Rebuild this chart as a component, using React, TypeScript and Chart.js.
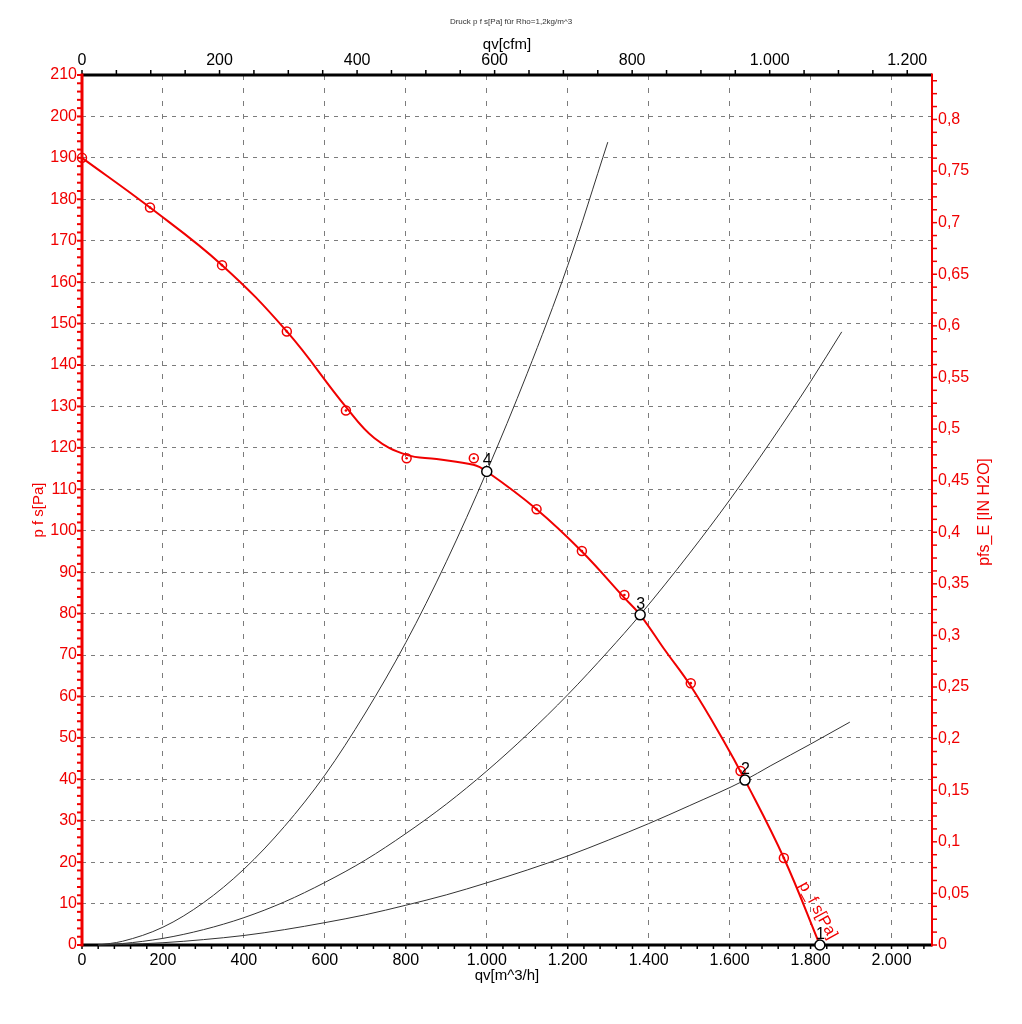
import React, { useEffect, useRef } from 'react';
import { Chart, registerables } from 'chart.js';

Chart.register(...registerables);

const FONT = "'Liberation Sans', Arial, Helvetica, sans-serif";
const RED = '#f00000';
const GRID = '#7c7c7c';

// Axis ranges / unit conversions
const X_MAX = 2100; // m^3/h
const Y_MAX = 210; // Pa
const M3H_PER_CFM = 1.699011;
const PA_PER_INH2O = 249.089;

// Tick labels
const X_TICKS = [0, 200, 400, 600, 800, 1000, 1200, 1400, 1600, 1800, 2000];
const CFM_TICKS = [0, 200, 400, 600, 800, 1000, 1200];
const PA_TICKS = [0, 10, 20, 30, 40, 50, 60, 70, 80, 90, 100, 110, 120, 130, 140, 150, 160, 170, 180, 190, 200, 210];
const INH2O_TICKS = [0, 0.05, 0.1, 0.15, 0.2, 0.25, 0.3, 0.35, 0.4, 0.45, 0.5, 0.55, 0.6, 0.65, 0.7, 0.75, 0.8];

// Fan curve p_f s [Pa] over qv [m^3/h]
const FAN_Q = [0, 168, 346, 506, 652, 722, 802, 876, 967, 1000, 1123, 1235, 1340, 1379, 1440, 1504, 1584, 1638, 1734, 1823];
const FAN_P = [190, 178, 164.1, 148.1, 129.9, 122.4, 118.3, 117.3, 115.9, 114.3, 105.2, 95, 83.8, 79.7, 71.2, 62.5, 49.5, 39.8, 21, 0];

// Measured points on the fan curve
const MEAS_Q = [0, 168, 346, 506, 652, 802, 968, 1123, 1235, 1340, 1504, 1627, 1734];
const MEAS_P = [190, 178, 164.1, 148.1, 129, 117.5, 117.5, 105.2, 95.1, 84.5, 63.2, 42, 21];

// Operating points
const OP_Q = [1823, 1638, 1379, 1000];
const OP_P = [0, 39.8, 79.7, 114.3];
const OP_LABELS = ['1', '2', '3', '4'];

// System curves
const SYS_A_Q = [40, 100, 200, 300, 400, 500, 600, 700, 800, 900, 1000, 1100, 1200, 1299];
const SYS_A_P = [0, 0.9, 4.3, 10.2, 18.3, 28.6, 41, 56, 73, 92.5, 114.3, 138, 164, 193.8];
const SYS_B_Q = [40, 100, 200, 300, 400, 500, 600, 700, 800, 900, 1000, 1100, 1200, 1300, 1379, 1500, 1600, 1700, 1800, 1877];
const SYS_B_P = [0, 0.35, 1.6, 3.7, 6.6, 10.4, 15.1, 20.5, 26.9, 34, 42, 50.8, 60.4, 70.9, 79.7, 94.4, 107.4, 121.3, 136, 148];
const SYS_C_Q = [40, 100, 200, 300, 400, 500, 600, 700, 800, 900, 1000, 1100, 1200, 1300, 1400, 1500, 1638, 1700, 1800, 1897];
const SYS_C_P = [0, 0.12, 0.55, 1.3, 2.3, 3.7, 5.4, 7.3, 9.6, 12.1, 15, 18.1, 21.5, 25.3, 29.3, 33.6, 39.8, 43.2, 48.5, 53.8];

const FAN_LABEL = 'p_f s[Pa]';
const FAN_LABEL_AT = [1771, 14.5];

const pts = (qs: number[], ps: number[]) => qs.map((q, i) => ({ x: q, y: ps[i] }));

const fmtThousands = (v: number) => {
  const n = Math.round(v);
  if (n >= 1000) return Math.floor(n / 1000) + '.' + String(n % 1000).padStart(3, '0');
  return String(n);
};
const fmtComma = (v: number) => String(parseFloat(Number(v).toFixed(4))).replace('.', ',');

const decor = {
  id: 'decor',
  beforeDatasetsDraw(chart: any) {
    const { ctx, chartArea: a, scales } = chart;
    const { x, x2, y, y2 } = scales;
    const seg = (x1: number, y1: number, xx: number, yy: number) => {
      ctx.beginPath();
      ctx.moveTo(x1, y1);
      ctx.lineTo(xx, yy);
      ctx.stroke();
    };
    ctx.save();
    ctx.setLineDash([]);
    // left minor ticks
    ctx.strokeStyle = RED;
    ctx.lineWidth = 2;
    for (let v = 0; v <= Y_MAX + 1e-9; v += 2) {
      const py = y.getPixelForValue(v);
      seg(a.left - 5, py, a.left, py);
    }
    // right minor ticks
    ctx.lineWidth = 1.5;
    for (let v = 0; v <= y2.max + 1e-9; v += 0.0125) {
      const py = y2.getPixelForValue(v);
      seg(a.right, py, a.right + 5, py);
    }
    // bottom ticks
    ctx.strokeStyle = '#000';
    ctx.lineWidth = 1.5;
    for (let v = 0; v <= X_MAX + 1e-9; v += 40) {
      const px = x.getPixelForValue(v);
      seg(px, a.bottom, px, a.bottom + 4);
    }
    // top ticks
    for (let v = 0; v <= x2.max + 1e-9; v += 50) {
      const px = x2.getPixelForValue(v);
      seg(px, a.top - 5, px, a.top);
    }
    // axis lines
    ctx.lineWidth = 3;
    ctx.strokeStyle = '#000';
    seg(a.left, a.top, a.right, a.top);
    seg(a.left, a.bottom, a.right, a.bottom);
    ctx.strokeStyle = RED;
    seg(a.left, a.top - 1.5, a.left, a.bottom + 1.5);
    ctx.lineWidth = 2;
    seg(a.right, a.top - 1.5, a.right, a.bottom + 1.5);
    ctx.restore();
  },
  afterDatasetsDraw(chart: any) {
    const { ctx, scales } = chart;
    const { x, y } = scales;
    ctx.save();
    // operating point numbers
    ctx.fillStyle = '#000';
    ctx.font = `16px ${FONT}`;
    ctx.textAlign = 'center';
    ctx.textBaseline = 'alphabetic';
    OP_Q.forEach((q, i) => {
      const px = x.getPixelForValue(q);
      const py = y.getPixelForValue(OP_P[i]);
      ctx.fillText(OP_LABELS[i], px + 0.5, py - 6);
    });
    // rotated fan-curve label
    const lx = x.getPixelForValue(FAN_LABEL_AT[0]);
    const ly = y.getPixelForValue(FAN_LABEL_AT[1]);
    ctx.translate(lx, ly);
    ctx.rotate((61 * Math.PI) / 180);
    ctx.fillStyle = RED;
    ctx.textAlign = 'left';
    ctx.fillText(FAN_LABEL, 0, 0);
    ctx.restore();
  },
  afterDraw(chart: any) {
    const { ctx, chartArea: a } = chart;
    ctx.save();
    ctx.translate(985, (a.top + a.bottom) / 2 + 2);
    ctx.rotate(-Math.PI / 2);
    ctx.fillStyle = RED;
    ctx.font = `16px ${FONT}`;
    ctx.textAlign = 'center';
    ctx.textBaseline = 'middle';
    ctx.fillText('pfs_E [IN H2O]', 0, 0);
    ctx.restore();
  },
};

export default function App() {
  const ref = useRef<HTMLCanvasElement | null>(null);

  useEffect(() => {
    if (!ref.current) return;
    const lineDs = (data: any, color: string, width: number, order: number, monotone: boolean) => ({
      data,
      borderColor: color,
      borderWidth: width,
      pointRadius: 0,
      showLine: true,
      fill: false,
      tension: 0.4,
      cubicInterpolationMode: monotone ? 'monotone' : 'default',
      clip: false,
      order,
      xAxisID: 'x',
      yAxisID: 'y',
    });
    const chart = new Chart(ref.current, {
      type: 'line',
      data: {
        datasets: [
          {
            data: pts(OP_Q, OP_P),
            showLine: false,
            pointRadius: 5,
            pointBorderWidth: 1.5,
            pointBorderColor: '#000',
            pointBackgroundColor: '#fff',
            clip: false,
            order: 0,
            xAxisID: 'x',
            yAxisID: 'y',
          } as any,
          {
            data: pts(MEAS_Q, MEAS_P),
            showLine: false,
            pointRadius: 1.3,
            pointBorderWidth: 0,
            pointBackgroundColor: RED,
            pointBorderColor: RED,
            clip: false,
            order: 1,
            xAxisID: 'x',
            yAxisID: 'y',
          } as any,
          {
            data: pts(MEAS_Q, MEAS_P),
            showLine: false,
            pointRadius: 4.5,
            pointBorderWidth: 1.5,
            pointBorderColor: RED,
            pointBackgroundColor: 'rgba(255,255,255,0)',
            clip: false,
            order: 2,
            xAxisID: 'x',
            yAxisID: 'y',
          } as any,
          lineDs(pts(FAN_Q, FAN_P), RED, 2, 3, false) as any,
          lineDs(pts(SYS_A_Q, SYS_A_P), '#333', 1, 4, true) as any,
          lineDs(pts(SYS_B_Q, SYS_B_P), '#333', 1, 4, true) as any,
          lineDs(pts(SYS_C_Q, SYS_C_P), '#333', 1, 4, true) as any,
        ],
      },
      options: {
        animation: false,
        responsive: false,
        events: [],
        layout: { padding: 0 },
        plugins: {
          legend: { display: false },
          tooltip: { enabled: false },
          title: {
            display: true,
            text: 'Druck p f s[Pa] für Rho=1,2kg/m^3',
            color: '#333',
            font: { family: FONT, size: 8, weight: 'normal' },
            padding: { top: 17, bottom: 0 },
          },
        },
        scales: {
          x: {
            type: 'linear',
            position: 'bottom',
            min: 0,
            max: X_MAX,
            afterBuildTicks: (s: any) => {
              s.ticks = X_TICKS.map((v) => ({ value: v }));
            },
            afterFit: (s: any) => {
              s.height = 79;
            },
            ticks: {
              autoSkip: false,
              maxRotation: 0,
              padding: 5.5,
              color: '#000',
              font: { family: FONT, size: 16 },
              callback: (v: any) => fmtThousands(Number(v)),
            },
            grid: { color: GRID, lineWidth: 1, drawTicks: false },
            border: { display: false, dash: [5, 8] },
            title: {
              display: true,
              text: 'qv[m^3/h]',
              color: '#000',
              font: { family: FONT, size: 15 },
              padding: { top: 0, bottom: 38.8 },
            },
          },
          x2: {
            type: 'linear',
            position: 'top',
            min: 0,
            max: X_MAX / M3H_PER_CFM,
            afterBuildTicks: (s: any) => {
              s.ticks = CFM_TICKS.map((v) => ({ value: v }));
            },
            afterFit: (s: any) => {
              s.height = 75 - 26.6;
            },
            ticks: {
              autoSkip: false,
              maxRotation: 0,
              padding: 4.6,
              color: '#000',
              font: { family: FONT, size: 16 },
              callback: (v: any) => fmtThousands(Number(v)),
            },
            grid: { display: false, drawTicks: false },
            border: { display: false },
            title: {
              display: true,
              text: 'qv[cfm]',
              color: '#000',
              font: { family: FONT, size: 15 },
              padding: { top: 9.4, bottom: 0 },
            },
          },
          y: {
            type: 'linear',
            position: 'left',
            min: 0,
            max: Y_MAX,
            afterBuildTicks: (s: any) => {
              s.ticks = PA_TICKS.map((v) => ({ value: v }));
            },
            afterFit: (s: any) => {
              s.width = 82;
            },
            ticks: {
              autoSkip: false,
              padding: 5,
              color: RED,
              font: { family: FONT, size: 16 },
              callback: (v: any) => String(v),
            },
            grid: { color: GRID, lineWidth: 1, drawTicks: false },
            border: { display: false, dash: [4, 5] },
            title: {
              display: true,
              text: 'p f s[Pa]',
              color: RED,
              font: { family: FONT, size: 15 },
              padding: { top: 29.5, bottom: 0 },
            },
          },
          y2: {
            type: 'linear',
            position: 'right',
            min: 0,
            max: Y_MAX / PA_PER_INH2O,
            afterBuildTicks: (s: any) => {
              s.ticks = INH2O_TICKS.map((v) => ({ value: v }));
            },
            afterFit: (s: any) => {
              s.width = 90;
            },
            ticks: {
              autoSkip: false,
              padding: 6,
              color: RED,
              font: { family: FONT, size: 16 },
              callback: (v: any) => fmtComma(Number(v)),
            },
            grid: { display: false, drawTicks: false },
            border: { display: false },
          },
        },
      } as any,
      plugins: [decor],
    });
    return () => chart.destroy();
  }, []);

  return (
    <div style={{ position: 'absolute', left: 0, top: 0, width: 1022, height: 1024, background: '#fff' }}>
      <canvas ref={ref} width={1022} height={1024} style={{ width: 1022, height: 1024, display: 'block' }} />
    </div>
  );
}
